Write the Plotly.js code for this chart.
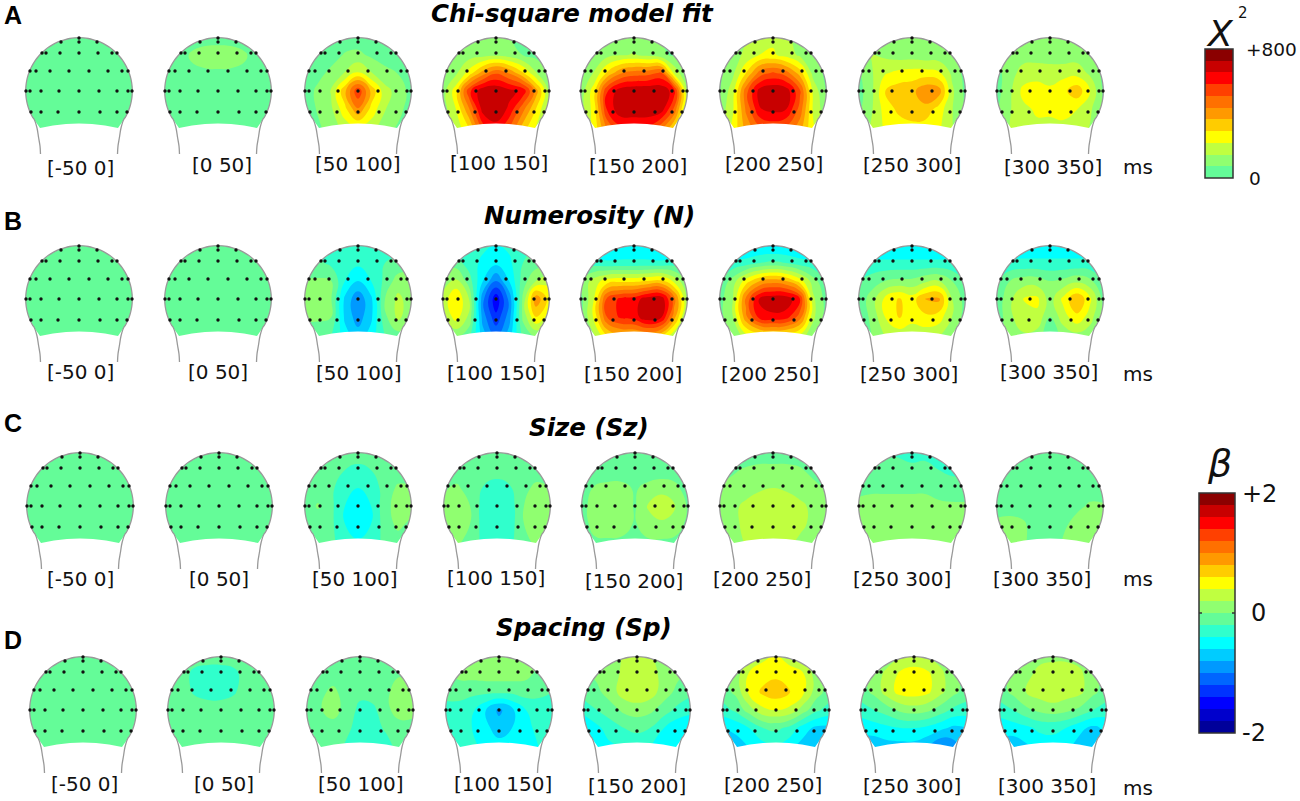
<!DOCTYPE html>
<html>
<head>
<meta charset="utf-8">
<script src="https://cdn.plot.ly/plotly-3.0.1.min.js"></script>
<style>
    html, body { margin: 0; padding: 0; background: white; }
</style>
</head>
<body>
<div id="chart" style="width:1300px;height:801px;"></div>
<script>
    const windows = ['[-50 0]', '[0 50]', '[50 100]', '[100 150]', '[150 200]', '[200 250]', '[250 300]', '[300 350]'];
    const panelLetters = ['A', 'B', 'C', 'D'];
    const panelTitles = ['Chi-square model fit', 'Numerosity (N)', 'Size (Sz)', 'Spacing (Sp)'];

    // sample grid of every scalp map, in px from the head centre
    const gridX = [-54, -40, -27, -13, 0, 13, 27, 40, 54];
    const gridY = [-54, -36, -18, 0, 18, 38];

    // colour bands, low to high
    const chiColors = ['#64fc98', '#90ff70', '#c0ff40', '#ffff00', '#ffcc00', '#ff9900', '#ff7000', '#ff4000', '#ff0000', '#c80000', '#8b0000'];
    const betaColors = ['#00009a', '#0000cc', '#0000ff', '#0033ff', '#0066ff', '#0099ff', '#00ccff', '#00ffff', '#30ffcc', '#64fc98',
        '#90ff70', '#c0ff40', '#ffff00', '#ffcc00', '#ff9900', '#ff7000', '#ff4000', '#ff0000', '#c80000', '#8b0000'];

    const flatChi = [
        [30, 30, 30, 30, 30, 30, 30, 30, 30],
        [30, 30, 30, 30, 30, 30, 30, 30, 30],
        [30, 30, 30, 30, 30, 30, 30, 30, 30],
        [30, 30, 30, 30, 30, 30, 30, 30, 30],
        [30, 30, 30, 30, 30, 30, 30, 30, 30],
        [30, 30, 30, 30, 30, 30, 30, 30, 30]
    ];
    const flatBeta = [
        [-.1, -.1, -.1, -.1, -.1, -.1, -.1, -.1, -.1],
        [-.1, -.1, -.1, -.1, -.1, -.1, -.1, -.1, -.1],
        [-.1, -.1, -.1, -.1, -.1, -.1, -.1, -.1, -.1],
        [-.1, -.1, -.1, -.1, -.1, -.1, -.1, -.1, -.1],
        [-.1, -.1, -.1, -.1, -.1, -.1, -.1, -.1, -.1],
        [-.1, -.1, -.1, -.1, -.1, -.1, -.1, -.1, -.1]
    ];

    const chiSquare = [
        flatChi,
        [[30, 30, 40, 50, 50, 50, 40, 30, 30],
         [30, 40, 80, 95, 100, 95, 80, 40, 30],
         [40, 40, 60, 65, 65, 65, 60, 40, 30],
         [30, 30, 30, 30, 30, 30, 30, 30, 30],
         [30, 30, 30, 30, 30, 30, 30, 30, 30],
         [30, 30, 30, 30, 30, 30, 30, 30, 30]],
        [[30, 30, 30, 30, 30, 30, 30, 30, 30],
         [30, 30, 40, 80, 90, 60, 30, 30, 30],
         [30, 50, 90, 150, 230, 150, 100, 70, 30],
         [30, 90, 150, 350, 570, 350, 170, 120, 40],
         [30, 80, 130, 270, 430, 270, 150, 100, 30],
         [30, 60, 100, 170, 190, 170, 100, 60, 30]],
        [[60, 60, 70, 80, 80, 70, 50, 40, 40],
         [60, 80, 110, 120, 130, 110, 70, 50, 50],
         [70, 130, 250, 400, 500, 430, 300, 150, 70],
         [100, 260, 560, 710, 720, 680, 630, 400, 110],
         [100, 220, 430, 690, 715, 640, 460, 290, 100],
         [90, 170, 280, 540, 620, 510, 320, 210, 90]],
        [[60, 70, 90, 100, 110, 90, 70, 50, 40],
         [60, 100, 120, 140, 150, 130, 90, 60, 50],
         [70, 150, 300, 430, 470, 480, 520, 200, 60],
         [90, 260, 580, 700, 715, 720, 715, 620, 110],
         [110, 250, 590, 715, 720, 720, 700, 500, 110],
         [120, 240, 440, 560, 560, 560, 450, 280, 110]],
        [[100, 100, 140, 180, 200, 170, 110, 90, 60],
         [80, 120, 160, 220, 230, 190, 130, 80, 60],
         [60, 130, 290, 470, 520, 470, 330, 120, 50],
         [60, 190, 480, 690, 720, 700, 520, 200, 60],
         [90, 210, 450, 650, 680, 660, 480, 210, 90],
         [130, 240, 390, 490, 520, 490, 390, 230, 120]],
        [[120, 120, 130, 130, 120, 110, 90, 60, 40],
         [110, 150, 130, 110, 110, 100, 100, 80, 40],
         [60, 140, 210, 240, 250, 250, 230, 130, 40],
         [40, 130, 290, 330, 340, 420, 400, 160, 50],
         [50, 140, 250, 310, 340, 340, 260, 150, 60],
         [80, 160, 230, 250, 260, 250, 230, 150, 70]],
        [[90, 90, 100, 110, 110, 100, 90, 70, 60],
         [70, 110, 120, 110, 100, 100, 110, 90, 60],
         [40, 120, 170, 190, 190, 190, 190, 130, 50],
         [40, 130, 240, 250, 230, 270, 340, 220, 50],
         [60, 140, 200, 230, 230, 240, 220, 160, 60],
         [90, 150, 190, 200, 200, 200, 180, 140, 80]]
    ];

    const numerosity = [
        flatBeta,
        flatBeta,
        [[-.3, -.3, -.3, -.3, -.3, -.3, -.3, -.3, -.3],
         [-.15, -.15, -.25, -.3, -.35, -.3, -.2, -.15, -.1],
         [.02, .03, .01, -.4, -.6, -.4, -.15, .1, .1],
         [.05, .05, .02, -.65, -.95, -.65, 0, .25, .1],
         [.03, .03, .01, -.65, -.9, -.65, -.05, .25, .05],
         [-.1, -.1, -.2, -.5, -.7, -.5, -.2, -.1, -.1]],
        [[-.3, -.3, -.3, -.35, -.4, -.35, -.3, -.2, -.2],
         [-.1, -.1, -.3, -.45, -.55, -.45, -.2, -.1, -.1],
         [.1, .25, -.1, -.6, -1, -.6, -.1, .2, .35],
         [.25, .6, .2, -.95, -1.55, -.95, .05, .95, .5],
         [.15, .5, .15, -.9, -1.35, -.9, .05, .6, .3],
         [-.1, 0, -.15, -.7, -1, -.7, -.15, 0, -.1]],
        [[-.7, -.7, -.7, -.6, -.6, -.6, -.7, -.7, -.7],
         [-.25, -.3, -.35, -.35, -.35, -.35, -.35, -.3, -.3],
         [0, .3, .5, .55, .55, .6, .65, .35, 0],
         [-.1, .4, 1.25, 1.45, 1.5, 1.7, 1.75, 1.1, .1],
         [-.1, .45, 1.2, 1.45, 1.5, 1.75, 1.65, .9, 0],
         [-.1, .15, .55, .7, .7, .75, .6, .2, -.1]],
        [[-.7, -.7, -.7, -.65, -.65, -.65, -.7, -.7, -.7],
         [-.4, -.35, -.3, -.2, -.15, -.2, -.3, -.35, -.4],
         [-.2, .1, .5, .8, .9, .8, .5, .1, -.2],
         [-.1, .2, 1.05, 1.65, 1.75, 1.75, 1.4, .25, -.1],
         [-.1, .2, .95, 1.5, 1.55, 1.5, 1.1, .25, -.1],
         [-.15, 0, .3, .4, .45, .4, .3, .05, -.15]],
        [[-.6, -.6, -.6, -.6, -.6, -.6, -.6, -.6, -.6],
         [-.35, -.35, -.35, -.35, -.35, -.35, -.35, -.35, -.35],
         [-.2, -.1, 0, .05, .05, .15, .2, 0, -.2],
         [-.15, .1, .45, .62, .5, .8, .85, .2, -.1],
         [-.15, .05, .4, .62, .5, .55, .5, .2, -.1],
         [-.1, 0, .2, .25, .2, .25, .2, .05, -.1]],
        [[-.55, -.55, -.55, -.55, -.55, -.55, -.55, -.55, -.55],
         [-.35, -.35, -.35, -.35, -.35, -.35, -.35, -.35, -.35],
         [-.2, 0, .1, .1, 0, .05, .15, .05, -.2],
         [-.15, .15, .4, .45, .1, .45, .8, .45, -.1],
         [-.15, .15, .35, .35, 0, .3, .55, .3, -.1],
         [-.1, .05, .15, .1, -.15, .05, .1, .05, -.1]]
    ];

    const sizeMaps = [
        flatBeta,
        flatBeta,
        [[-.1, -.1, -.1, -.1, -.1, -.1, -.1, -.1, -.1],
         [-.1, -.1, -.1, -.2, -.25, -.2, -.1, -.1, -.1],
         [-.1, -.1, -.15, -.35, -.4, -.35, -.1, .03, .02],
         [-.1, .02, -.15, -.4, -.6, -.4, -.08, .1, .08],
         [-.1, -.1, -.15, -.4, -.55, -.4, -.1, .05, -.05],
         [-.1, -.1, -.15, -.3, -.35, -.3, -.15, -.1, -.1]],
        [[-.1, -.1, -.1, -.1, -.1, -.1, -.1, -.1, -.1],
         [-.1, -.1, -.1, -.1, -.15, -.1, -.1, -.1, -.1],
         [-.02, .03, -.08, -.22, -.25, -.22, -.05, .05, 0],
         [.02, .08, 0, -.3, -.35, -.3, 0, .1, .05],
         [.02, .08, 0, -.3, -.35, -.3, 0, .1, .05],
         [-.05, .03, -.1, -.25, -.3, -.25, -.05, .03, -.05]],
        [[-.1, -.1, -.1, -.1, -.1, -.1, -.1, -.1, -.1],
         [-.1, -.1, -.1, -.1, -.1, -.1, -.1, -.1, -.1],
         [-.1, .02, .05, .05, -.02, .05, .1, .05, -.1],
         [-.1, .12, .15, .12, -.02, .22, .38, .22, -.05],
         [-.1, .08, .12, .08, -.02, .12, .15, .08, -.05],
         [-.1, -.05, -.05, -.05, -.1, -.05, -.05, -.05, -.1]],
        [[-.1, -.1, -.1, -.1, -.1, -.1, -.1, -.1, -.1],
         [-.05, -.02, .02, .05, .05, .05, .02, -.05, -.1],
         [.02, .05, .1, .18, .2, .18, .1, .05, -.02],
         [.05, .15, .25, .28, .3, .28, .25, .15, .05],
         [.05, .15, .25, .28, .28, .28, .25, .15, .05],
         [.02, .08, .22, .25, .25, .25, .15, .08, .02]],
        [[-.2, -.2, -.2, -.25, -.35, -.25, -.25, -.3, -.3],
         [-.1, -.1, -.1, -.1, -.1, -.15, -.2, -.25, -.25],
         [-.05, -.05, -.05, -.05, -.05, -.05, -.1, -.1, -.1],
         [.05, .1, .1, .1, .1, .1, .05, .03, .03],
         [.1, .2, .1, .1, .1, .1, .1, .1, .08],
         [.05, .1, .1, .1, .1, .1, .1, .1, .05]],
        [[-.1, -.1, -.1, -.1, -.1, -.1, -.1, -.1, -.1],
         [-.1, -.1, -.1, -.1, -.1, -.1, -.1, -.1, -.1],
         [-.1, -.1, -.1, -.1, -.1, -.1, -.1, -.1, -.1],
         [-.1, -.1, -.1, -.1, -.1, -.1, -.05, .03, .02],
         [.05, .08, .03, -.1, -.15, -.05, .08, .1, .08],
         [.05, .08, .03, -.1, -.15, .03, .1, .1, .05]]
    ];

    const spacing = [
        flatBeta,
        [[-.1, -.1, -.1, -.1, -.1, -.1, -.1, -.1, -.1],
         [-.1, -.1, -.25, -.3, -.3, -.25, -.1, -.1, -.1],
         [-.1, -.1, -.22, -.28, -.28, -.22, -.1, -.1, -.1],
         [-.1, -.1, -.1, -.1, -.1, -.1, -.1, -.1, -.1],
         [-.1, -.1, -.1, -.1, -.1, -.1, -.1, -.1, -.1],
         [-.1, -.1, -.1, -.1, -.1, -.1, -.1, -.1, -.1]],
        [[-.1, -.1, -.1, -.1, -.1, -.1, -.1, -.1, -.1],
         [-.1, -.1, -.1, -.1, -.1, -.1, -.05, -.02, -.1],
         [-.1, -.05, .05, -.1, -.15, -.1, -.03, .1, .03],
         [-.05, -.02, .1, -.1, -.25, -.25, -.05, .12, .08],
         [-.1, -.1, -.1, -.15, -.3, -.3, -.15, -.1, -.1],
         [-.1, -.1, -.1, -.25, -.3, -.3, -.3, -.1, -.1]],
        [[.05, .05, .05, .05, .05, .05, .05, .05, .05],
         [-.05, .05, .08, .1, .1, .1, .05, -.05, -.1],
         [-.15, -.1, -.15, -.15, -.15, -.15, -.1, -.15, -.2],
         [-.25, -.3, -.35, -.6, -.85, -.65, -.4, -.3, -.3],
         [-.25, -.3, -.4, -.55, -.7, -.6, -.45, -.35, -.3],
         [-.3, -.3, -.35, -.45, -.5, -.5, -.45, -.4, -.3]],
        [[.05, .05, .1, .22, .25, .22, .1, .05, .05],
         [-.05, .05, .1, .25, .3, .3, .12, .05, -.05],
         [-.1, -.05, .1, .3, .35, .3, .1, -.05, -.15],
         [-.35, -.2, -.1, .05, .1, .05, -.1, -.25, -.35],
         [-.55, -.45, -.3, -.2, -.15, -.2, -.4, -.55, -.55],
         [-.55, -.55, -.45, -.4, -.35, -.4, -.5, -.55, -.55]],
        [[.05, .1, .2, .35, .4, .3, .2, .1, .05],
         [-.05, .1, .42, .5, .55, .5, .42, .1, -.05],
         [-.1, .05, .45, .65, .72, .62, .45, .1, -.1],
         [-.3, -.15, .1, .35, .4, .35, .1, -.15, -.3],
         [-.6, -.55, -.4, -.2, -.15, -.25, -.5, -.65, -.65],
         [-.7, -.7, -.6, -.5, -.45, -.55, -.7, -.7, -.7]],
        [[.05, .05, .1, .2, .25, .2, .1, .05, 0],
         [-.05, .1, .25, .45, .5, .45, .25, .05, -.05],
         [-.1, .05, .3, .48, .5, .45, .25, .05, -.1],
         [-.3, -.2, -.1, .05, .1, .05, -.1, -.25, -.3],
         [-.55, -.5, -.45, -.4, -.4, -.45, -.55, -.65, -.6],
         [-.7, -.75, -.7, -.7, -.7, -.8, -1.05, -.9, -.65]],
        [[0, .05, .1, .15, .15, .15, .1, .05, 0],
         [-.05, .05, .15, .25, .3, .3, .25, .05, -.05],
         [-.1, .05, .2, .3, .35, .3, .25, .05, -.1],
         [-.3, -.2, -.05, .05, .1, .05, -.05, -.2, -.3],
         [-.55, -.5, -.45, -.35, -.35, -.4, -.55, -.65, -.55],
         [-.65, -.75, -.65, -.55, -.5, -.55, -.7, -.7, -.6]]
    ];

    // electrode montage, offsets from head centre
    const electrodeX = [0, -18, 0, 18, -37, -33, -19, 0, 19, 33, 38, -49, -43, -29, -10, 10, 29, 43, 49,
        -53, -49, -38, -20, 0, 20, 38, 49, 53, -48, -38, -21, 0, 21, 38, 48];
    const electrodeY = [-53, -49, -49, -49, -38, -38, -38, -38, -38, -38, -38, -20, -20, -20, -20, -20, -20, -20, -20,
        0, 0, 0, 0, 0, 0, 0, 0, 0, 21, 21, 21, 21, 21, 21, 21];

    // where things sit on the page
    const headX = [
        [79, 218, 358, 496, 634, 773, 912, 1050],
        [79, 218, 358, 496, 634, 773, 912, 1050],
        [80, 219, 358, 497, 635, 773, 912, 1050],
        [83, 221, 360, 499, 637, 776, 914, 1053]
    ];
    const headY = [91, 299, 506, 710];
    const labelX = [
        [80, 222, 358, 499, 638, 774, 912, 1053],
        [80, 218, 359, 496, 633, 770, 909, 1049],
        [80, 219, 355, 496, 634, 762, 902, 1042],
        [84, 224, 361, 503, 637, 773, 912, 1047]
    ];
    const labelY = [
        [168, 165, 164, 163, 166, 164, 165, 167],
        [372, 372, 373, 373, 374, 374, 374, 372],
        [579, 579, 579, 578, 581, 579, 579, 579],
        [784, 784, 784, 784, 786, 785, 786, 786]
    ];
    const titleX = [572, 589, 589, 584];
    const titleY = [13, 215, 427, 627];
    const letterY = [15, 221, 423, 640];
    const msY = [167, 374, 579, 788];

    const range = (n) => Array.from({length: n}, (_, i) => i);
    const rad = (deg) => deg * Math.PI / 180;
    const headR = 53.3;

    const evenScale = (colors) => colors.map((c, i) => [i / (colors.length - 1), c]);

    // white polygons either side of the midline, the head shape stays open between them
    const maskPath = () => {
        const xs = [];
        const ys = [];
        [-1, 1].forEach((side) => {
            xs.push(0, side * 57, side * 57, 0);
            ys.push(-57, -57, 42, 42);
            xs.push(0, side * 13, side * 26, side * 39);
            ys.push(32.5, 33, 34.5, 37);
            for (let a = 30; a >= -90; a -= 4) {
                xs.push(side * headR * Math.cos(rad(a)));
                ys.push(headR * Math.sin(rad(a)));
            }
            xs.push(0, null);
            ys.push(-57, null);
        });
        return [xs, ys];
    };

    const outlinePath = () => {
        const neckX = [38.5, 39, 40.5, 42, 45];
        const neckY = [63, 55, 46, 37, 28];
        const xs = neckX.map(v => -v);
        const ys = neckY.slice();
        for (let a = 150; a <= 390; a += 5) {
            xs.push(headR * Math.cos(rad(a)));
            ys.push(headR * Math.sin(rad(a)));
        }
        neckX.slice().reverse().forEach(v => xs.push(v));
        neckY.slice().reverse().forEach(v => ys.push(v));
        return [xs, ys];
    };

    const data = [];
    const annotations = [];
    const shapes = [];
    const [maskX, maskY] = maskPath();
    const [lineX, lineY] = outlinePath();
    const shift = (arr, by) => arr.map(v => v === null ? null : by + v);

    const text = (x, y, t, size, extra) => annotations.push(Object.assign({
        x: x, y: y, text: t, showarrow: false, xanchor: 'center', yanchor: 'middle',
        font: {family: 'DejaVu Sans', size: size, color: '#111111'}
    }, extra || {}));

    const drawHead = (cx, cy, z, colors, start, end, size) => {
        data.push({
            type: 'contour',
            x: shift(gridX, cx),
            y: shift(gridY, cy),
            z: z,
            autocontour: false,
            contours: {start: start, end: end, size: size, coloring: 'fill', showlines: false},
            colorscale: evenScale(colors),
            line: {width: 0, smoothing: 1.3},
            showscale: false,
            hoverinfo: 'skip'
        });
        data.push({
            type: 'scatter', mode: 'lines',
            x: shift(maskX, cx), y: shift(maskY, cy),
            fill: 'toself', fillcolor: 'white', line: {width: 0, simplify: false}, hoverinfo: 'skip'
        });
        data.push({
            type: 'scatter', mode: 'lines',
            x: shift(lineX, cx), y: shift(lineY, cy),
            line: {color: '#999999', width: 1.3, shape: 'spline'}, hoverinfo: 'skip'
        });
        data.push({
            type: 'scatter', mode: 'markers',
            x: shift(electrodeX, cx), y: shift(electrodeY, cy),
            marker: {color: '#111111', size: 3.4}, hoverinfo: 'skip'
        });
    };

    [chiSquare, numerosity, sizeMaps, spacing].forEach((maps, row) => {
        maps.forEach((z, col) => {
            if (row === 0) {
                const step = 800 / chiColors.length;
                drawHead(headX[row][col], headY[row], z, chiColors, step, 800 - step, step);
            } else {
                drawHead(headX[row][col], headY[row], z, betaColors, -1.8, 1.8, 0.2);
            }
            text(labelX[row][col], labelY[row][col], windows[col], 20);
        });
        text(1138, msY[row], 'ms', 20);
        text(titleX[row], titleY[row], '<b><i>' + panelTitles[row] + '</i></b>', 24.5, {font: {family: 'DejaVu Sans', size: 24.5, color: '#000000'}});
        text(13, letterY[row], '<b>' + panelLetters[row] + '</b>', 25, {font: {family: 'Liberation Sans', size: 25, color: '#000000'}});
    });

    // the two colour keys
    const colorKey = (colors, x0, x1, y0, y1) => {
        const n = colors.length;
        data.push({
            type: 'heatmap',
            x: [x0, x1],
            y: range(n + 1).map(i => y1 + (y0 - y1) * i / n),
            z: range(n).map(i => [i]),
            zmin: 0, zmax: n - 1,
            colorscale: evenScale(colors),
            showscale: false,
            hoverinfo: 'skip'
        });
        shapes.push({type: 'rect', x0: x0, x1: x1, y0: y0, y1: y1, line: {color: '#333333', width: 1.5}});
    };
    colorKey(chiColors, 1205, 1233, 49, 178);
    colorKey(betaColors, 1199, 1235, 493, 733);
    shapes.push({type: 'line', x0: 1199, x1: 1202, y0: 613, y1: 613, line: {color: '#333333', width: 1.5}});
    shapes.push({type: 'line', x0: 1232, x1: 1235, y0: 613, y1: 613, line: {color: '#333333', width: 1.5}});

    text(1220, 33, '<i>X</i>', 36);
    text(1243, 13, '2', 15);
    text(1271, 49, '+800', 18.5);
    text(1255, 178, '0', 18.5);
    text(1219, 463, '<i>β</i>', 38);
    text(1259, 494, '+2', 24);
    text(1258, 613, '0', 24);
    text(1254, 733, '-2', 24);

    const layout = {
        width: 1300,
        height: 801,
        margin: {t: 0, b: 0, l: 0, r: 0},
        showlegend: false,
        hovermode: false,
        paper_bgcolor: 'white',
        plot_bgcolor: 'white',
        xaxis: {range: [0, 1300], visible: false, fixedrange: true},
        yaxis: {range: [801, 0], visible: false, fixedrange: true},
        annotations: annotations,
        shapes: shapes
    };

    Plotly.newPlot('chart', data, layout, {displayModeBar: false});
</script>
</body>
</html>
